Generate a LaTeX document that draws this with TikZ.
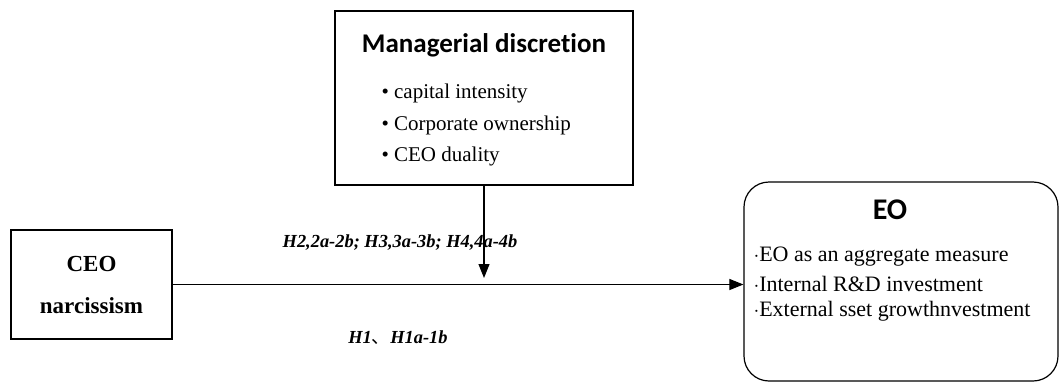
\documentclass[tikz,border=0pt]{standalone}
\usepackage{fontspec}
\setmainfont{Liberation Serif}
\newfontfamily\titlefont[Ligatures=NoCommon]{Carlito}
\newfontfamily\cjk{Noto Sans CJK SC}
\usetikzlibrary{arrows.meta}
\tikzset{
  box/.style={draw,line width=1.2pt},
  link/.style={line width=1.1pt},
  hyp/.style={font=\fontsize{18.4}{21}\selectfont\bfseries\itshape}
}
\newcommand{\Item}[4]{\node[anchor=west,font=\fontsize{#4}{24}\selectfont] (#1) at #2 {#3};}

\begin{document}
\begin{tikzpicture}[x=1pt,y=-1pt]
    \useasboundingbox (0,0) rectangle (1062,383);
    % boxes
    \node[box,minimum width=298pt,minimum height=174pt] (md) at (484,98) {};
    \node[box,minimum width=161pt,minimum height=109pt] (ceo) at (91.5,284.5) {};
    \node[box,rounded corners=25pt,minimum width=314pt,minimum height=199pt] (eo) at (901,281.5) {};

    % managerial discretion
    \node[font=\fontsize{27}{30}\selectfont\titlefont\bfseries] (mdtitle) at (484,45) {Managerial discretion};
    \Item{md1}{(378,93)}{\textbullet\ capital intensity}{21}
    \Item{md2}{(378,125)}{\textbullet\ Corporate ownership}{21}
    \Item{md3}{(378,156)}{\textbullet\ CEO duality}{21}

    % CEO narcissism
    \node[font=\fontsize{23}{26}\selectfont\bfseries] (ceo1) at (91.5,264) {CEO};
    \node[font=\fontsize{23}{26}\selectfont\bfseries] (ceo2) at (91.5,306) {narcissism};

    % EO
    \node[font=\fontsize{30}{33}\selectfont\titlefont\bfseries] (eotitle) at (890,210) {EO};
    \Item{eo1}{(750,257)}{$\cdot$EO as an aggregate measure}{22}
    \Item{eo2}{(750,284)}{$\cdot$Internal R\&D investment}{22}
    \Item{eo3}{(750,311)}{$\cdot$External sset growthnvestment}{22}

    % connectors
    \coordinate (tip) at (484,278);
    \draw[link,-{Triangle[length=14pt,width=11pt]}] (ceo.east) -- (ceo.east -| eo.west);
    \draw[link,-{Triangle[length=14pt,width=11pt]}] (md.south) -- (tip);

    \node[hyp] (h2) at (400,243) {H2,2a-2b; H3,3a-3b; H4,4a-4b};
    \node[hyp] (h1) at (398,338) {H1{\cjk\mdseries\upshape 、}H1a-1b};
\end{tikzpicture}
\end{document}
